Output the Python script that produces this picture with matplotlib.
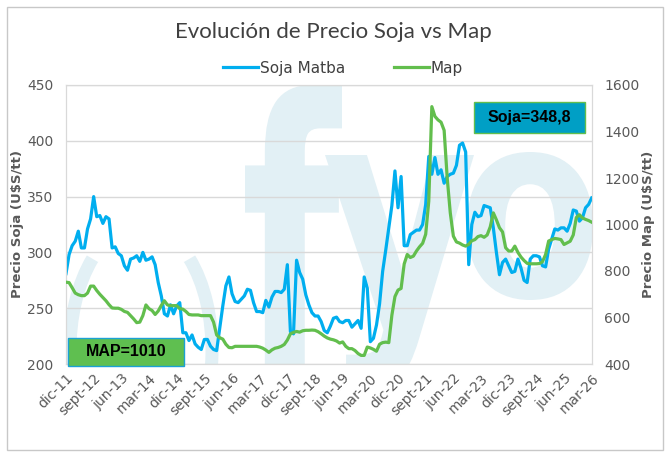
import matplotlib
matplotlib.use("Agg")
import matplotlib.pyplot as plt
import numpy as np
from matplotlib.patches import Rectangle, PathPatch, Arc
from matplotlib.textpath import TextPath
from matplotlib.font_manager import FontProperties
from matplotlib.transforms import Affine2D

# monthly series, dic-11 .. mar-26
soja = [281, 298, 306, 310, 319, 304, 304, 321, 330, 350,
        332, 333, 326, 332, 330, 304, 305, 299, 297, 288,
        284, 294, 295, 297, 292, 300, 293, 294, 296, 289,
        273, 261, 245, 243, 253, 245, 252, 255, 228, 228,
        221, 226, 218, 215, 213, 222, 222, 216, 213, 212,
        232, 252, 270, 278, 263, 256, 255, 258, 261, 267,
        266, 255, 247, 247, 246, 257, 251, 260, 265, 265,
        264, 267, 289, 229, 227, 293, 282, 276, 262, 253,
        246, 243, 243, 238, 230, 228, 234, 241, 242, 238,
        237, 239, 239, 233, 236, 239, 232, 278, 268, 220,
        223, 235, 254, 283, 302, 322, 342, 373, 340, 368,
        306, 306, 316, 318, 320, 320, 325, 343, 386, 370,
        385, 370, 374, 362, 368, 370, 371, 378, 396, 398,
        390, 289, 325, 336, 332, 333, 342, 341, 340, 322,
        300, 280, 291, 294, 288, 282, 283, 294, 286, 275,
        273, 294, 297, 297, 296, 288, 287, 303, 312, 321,
        320, 322, 322, 319, 326, 338, 337, 328, 331, 340,
        343, 348.8]

map_ = [752, 750, 728, 705, 698, 694, 694, 705, 735, 735,
        716, 700, 686, 672, 655, 641, 640, 640, 635, 626,
        622, 608, 594, 578, 580, 608, 654, 638, 630, 613,
        628, 652, 672, 654, 651, 651, 651, 638, 636, 626,
        613, 611, 611, 611, 608, 608, 608, 608, 580, 525,
        513, 507, 485, 471, 470, 476, 476, 476, 476, 476,
        476, 476, 476, 473, 468, 460, 450, 461, 468, 471,
        476, 484, 503, 530, 536, 540, 537, 543, 545, 545,
        546, 545, 539, 530, 520, 512, 507, 504, 499, 490,
        495, 476, 466, 466, 458, 445, 437, 437, 473, 469,
        463, 455, 485, 492, 494, 492, 610, 690, 718, 725,
        830, 871, 858, 864, 886, 904, 919, 958, 1100, 1507,
        1465, 1450, 1440, 1405, 1200, 1050, 950, 925, 920, 912,
        907, 915, 930, 935, 948, 952, 945, 955, 990, 1050,
        1020, 986, 968, 900, 886, 886, 907, 880, 860, 845,
        833, 831, 831, 831, 832, 840, 871, 929, 935, 940,
        938, 935, 914, 921, 928, 955, 1030, 1042, 1028, 1022,
        1017, 1010]

xlabels = ["dic-11", "sept-12", "jun-13", "mar-14", "dic-14", "sept-15", "jun-16",
           "mar-17", "dic-17", "sept-18", "jun-19", "mar-20", "dic-20", "sept-21",
           "jun-22", "mar-23", "dic-23", "sept-24", "jun-25", "mar-26"]

W, H = 668, 457
BLUE = "#00AEEF"
GREEN = "#62BE4D"
WM = "#e2f0f5"
GREY = "#595959"

fig = plt.figure(figsize=(W / 100, H / 100), dpi=100)
ax = fig.add_axes([66 / W, 1 - 364 / H, (591.7 - 66) / W, (364 - 85) / H])
ax2 = ax.twinx()

x = np.arange(len(soja))

# pixel helper (top-left origin)
pix = Affine2D().scale(1 / 100.0) + fig.dpi_scale_trans

def wm_letter(ch, x0, y0, x1, y1):
    tp = TextPath((0, 0), ch, size=1, prop=FontProperties(family="DejaVu Sans", weight="bold"))
    bb = tp.get_extents()
    tr = (Affine2D().translate(-bb.x0, -bb.y0)
          .scale((x1 - x0) / bb.width, (y1 - y0) / bb.height)
          .translate(x0, H - y1)) + pix
    p = PathPatch(tp, transform=tr, facecolor=WM, edgecolor="none", zorder=0.2)
    ax.add_patch(p)
    p.set_clip_path(ax.patch)

# watermark logo
wm_letter("f", 245, 85, 342, 372)
wm_letter("y", 325, 155, 474, 390)
wm_letter("o", 467, 152, 593, 300)
for t1, t2 in [(118, 245), (-65, 62)]:
    a = Arc((141, H - 350), 142, 250, theta1=t1, theta2=t2, color=WM,
            lw=13 * 0.72, transform=pix, zorder=0.2)
    ax.add_patch(a)
    a.set_clip_path(ax.patch)

l1, = ax.plot(x, soja, color=BLUE, lw=2.3, label="Soja Matba", zorder=3)
l2, = ax2.plot(x, map_, color=GREEN, lw=2.3, label="Map", zorder=3)

ax.set_xlim(0, len(soja) - 1)
ax.set_ylim(200, 450)
ax2.set_ylim(400, 1600)
ax.set_yticks(np.arange(200, 451, 50))
ax2.set_yticks(np.arange(400, 1601, 200))
ax.set_xticks(np.arange(0, len(soja), 9))
ax.set_xticklabels(xlabels, rotation=45, ha="right", rotation_mode="anchor",
                   fontsize=8, color=GREY)

ax.grid(axis="y", color="#d9d9d9", lw=1)
ax.set_axisbelow(True)
for a_ in (ax, ax2):
    for s in a_.spines.values():
        s.set_color("#d9d9d9")
    a_.tick_params(length=0, labelsize=10, labelcolor=GREY, pad=9)
ax.tick_params(axis="x", pad=5)

ax.set_ylabel("Precio Soja (U$S/tt)", fontsize=9.5, fontweight="bold", color=GREY)
ax2.set_ylabel("Precio Map (U$S/tt)", fontsize=9.5, fontweight="bold", color=GREY)
# label anchors sit on the edge facing the axes
ax.yaxis.set_label_coords((24 - 66) / 525.7, 0.5)
ax2.yaxis.set_label_coords((642 - 66) / 525.7, 0.5)

fig.text(333 / W, 1 - 32 / H, "Evolución de Precio Soja vs Map", ha="center", va="center",
         fontsize=16, color="#404040", family=["Liberation Sans Narrow", "Lato", "DejaVu Sans"])

fig.legend(handles=[l1, l2], loc="center", bbox_to_anchor=(343 / W, 1 - 68 / H), ncol=2,
           frameon=False, fontsize=11, handlelength=2.3, handletextpad=0.1,
           columnspacing=3.2, labelcolor="#404040")

# value boxes
def value_box(x0, y0, x1, y1, txt, fc, ec):
    fig.patches.append(Rectangle((x0 / W, 1 - y1 / H), (x1 - x0) / W, (y1 - y0) / H,
                                 transform=fig.transFigure, facecolor=fc, edgecolor=ec,
                                 lw=1, zorder=5))
    fig.text((x0 + x1) / 2 / W, 1 - (y0 + y1) / 2 / H, txt, ha="center", va="center",
             fontsize=11.5, fontweight="bold", color="black", family="Liberation Sans",
             zorder=6)

value_box(68, 338, 184, 366, "MAP=1010", "#5FBF50", "#1BA1D4")
value_box(474, 102, 585, 133, "Soja=348,8", "#009FC5", "#62BE4D")

# outer border
fig.patches.append(Rectangle((7 / W, 1 - 450 / H), (663 - 7) / W, (450 - 7) / H,
                             transform=fig.transFigure, facecolor="none",
                             edgecolor="#c8c8c8", lw=1, zorder=0))

fig.savefig("out.png", dpi=100)
